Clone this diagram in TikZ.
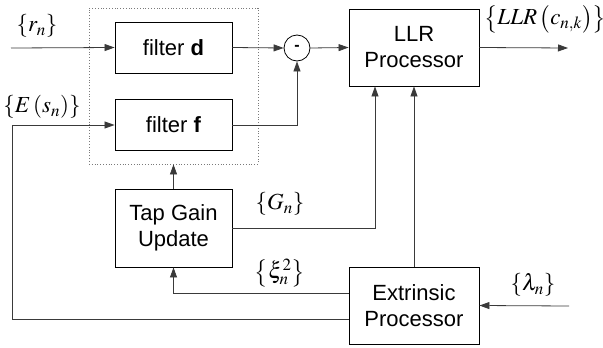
\documentclass[tikz,border=0pt]{standalone}
\usepackage{mathptmx}
\usepackage[no-math]{fontspec}
\setmainfont{Liberation Sans}
\usetikzlibrary{arrows.meta, positioning, calc}
\definecolor{cline}{HTML}{3A3A3A}
\definecolor{cdot}{HTML}{7A7A7A}
\tikzset{
  every picture/.style={x=1pt, y=-1pt, line width=0.8pt},
  block/.style={draw=black, line width=0.9pt, minimum width=117pt, minimum height=#1, align=center, inner sep=2pt, font=\fontsize{22}{26}\selectfont},
  block/.default=51pt,
  sumnode/.style={draw=black, circle, minimum size=26pt, inner sep=0pt, font=\bfseries\fontsize{16}{16}\selectfont},
  arrow/.style={-{Triangle[length=10pt, width=7pt]}, draw=cline},
  sig/.style={font=\fontsize{23}{26}\selectfont, inner sep=0pt},
  group/.style={draw=cdot, dotted, minimum width=169pt, minimum height=156pt},
}

\begin{document}
\begin{tikzpicture}
  \useasboundingbox (0,0) rectangle (603,348);
  % filter pair inside the dotted frame
  \node[group] (filt) at (173.5,86) {};
  \node[block] (fd) at (173.5,47.5) {filter \textbf{d}};
  \node[block] (ff) at (173.5,125) {filter \textbf{f}};
  \node[sumnode] (sub) at (297,48) {-};
  \node[block=77pt, minimum width=130pt] (llr) at (414,47.5) {LLR\\Processor};
  \node[block=78pt] (tap) at (173.5,228) {Tap Gain\\Update};
  \node[block=77pt, minimum width=130pt] (extr) at (414,305.5) {Extrinsic\\Processor};
  % signal labels
  \node[sig] (rlab) at (37,26) {$\left\{r_n\right\}$};
  \node[sig] (elab) at (42,107) {$\left\{E\left(s_n\right)\right\}$};
  \node[sig] (llrlab) at (545,19) {$\left\{LLR\left(c_{n,k}\right)\right\}$};
  \node[sig] (glab) at (280,204) {$\left\{G_n\right\}$};
  \node[sig] (xilab) at (280,273) {$\left\{\xi_n^2\right\}$};
  \node[sig] (lamlab) at (533,285) {$\left\{\lambda_n\right\}$};
  % free ends
  \coordinate (rin) at (11,48);
  \coordinate (esin) at (12,125);
  \coordinate (llrout) at (568,48);
  \coordinate (lamin) at (569,306);
  % connectors
  \draw[arrow] (rin) -- (fd.west);
  \draw[arrow] (fd.east) -- (sub.west);
  \draw[arrow] (ff.east) -| (sub.south);
  \draw[arrow] (sub.east) -- (llr.west);
  \draw[arrow] (llr.east) -- (llrout);
  \draw[arrow] (tap.north) -- (filt.south);
  \draw[arrow] (tap.east) -| ([xshift=-39pt]llr.south);
  \draw[arrow] (extr.north) -- (llr.south);
  \draw[arrow] ([yshift=12.5pt]extr.west) -| (tap.south);
  \draw[arrow] ([yshift=-13.5pt]extr.west) -| (esin) -- (ff.west);
  \draw[arrow] (lamin) -- (extr.east);
\end{tikzpicture}
\end{document}
